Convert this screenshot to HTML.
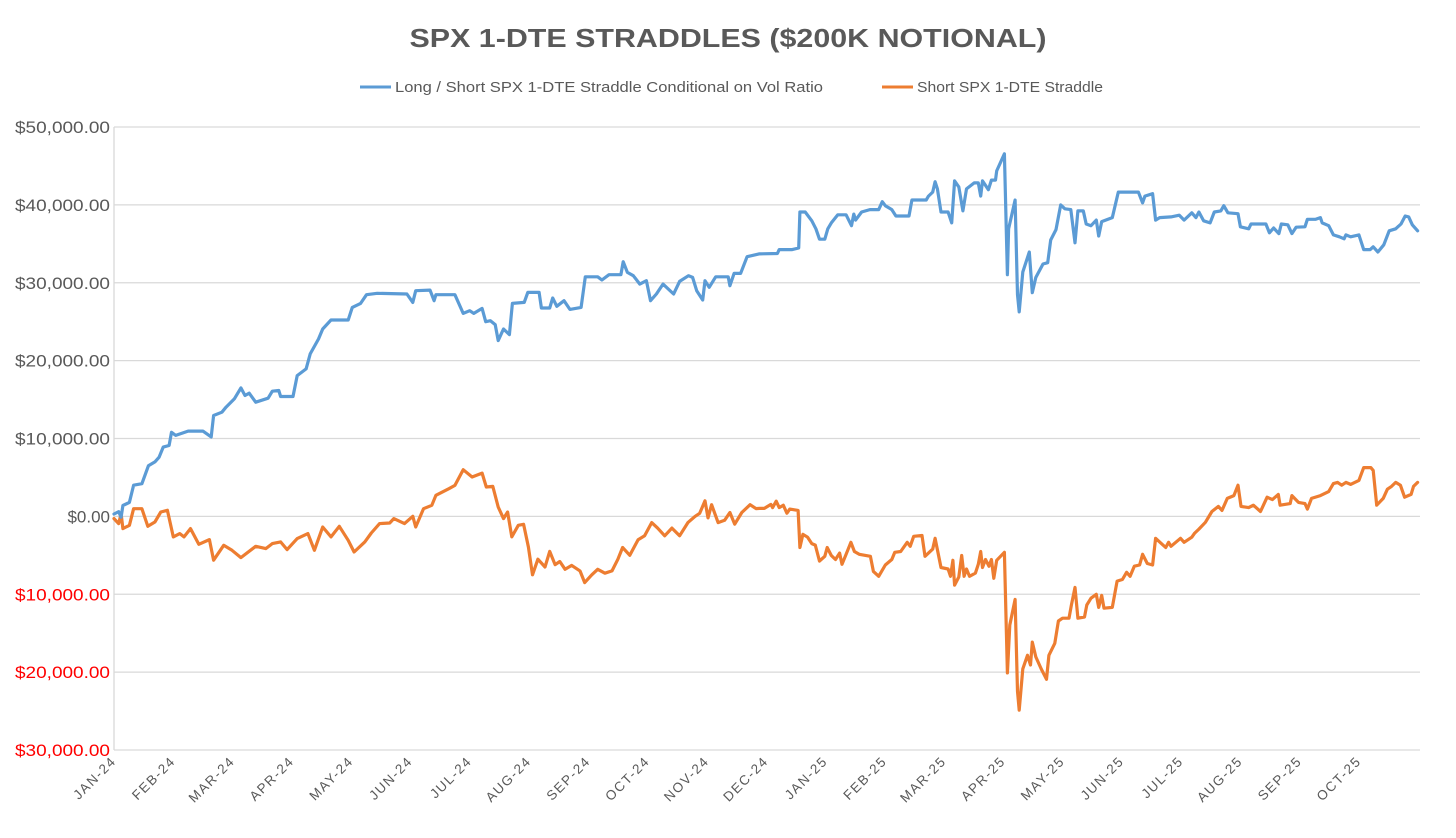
<!DOCTYPE html>
<html><head><meta charset="utf-8">
<style>
html,body{margin:0;padding:0;background:#fff;}
svg{display:block;font-family:"Liberation Sans",sans-serif;}
</style></head>
<body>
<svg id="chart" width="1456" height="838" viewBox="0 0 1456 838">
  <text x="728" y="47" text-anchor="middle" font-size="26" font-weight="bold" fill="#595959" textLength="637" lengthAdjust="spacingAndGlyphs">SPX 1-DTE STRADDLES ($200K NOTIONAL)</text>
  <g>
    <g>
      <line x1="360" y1="87" x2="391" y2="87" stroke="#5B9BD5" stroke-width="3"/>
      <text x="395" y="92" font-size="14.5" fill="#595959" textLength="428" lengthAdjust="spacingAndGlyphs">Long / Short SPX 1-DTE Straddle Conditional on Vol Ratio</text>
    </g>
    <g>
      <line x1="882" y1="87" x2="913" y2="87" stroke="#ED7D31" stroke-width="3"/>
      <text x="917" y="92" font-size="14.5" fill="#595959" textLength="186" lengthAdjust="spacingAndGlyphs">Short SPX 1-DTE Straddle</text>
    </g>
  </g>
  <g id="grid"></g>
  <g id="yaxis"></g>
  <g id="xaxis"></g>
  <g id="series"></g>
</svg>
<script>
const monthLabels = ["JAN-24","FEB-24","MAR-24","APR-24","MAY-24","JUN-24","JUL-24","AUG-24","SEP-24","OCT-24","NOV-24","DEC-24","JAN-25","FEB-25","MAR-25","APR-25","MAY-25","JUN-25","JUL-25","AUG-25","SEP-25","OCT-25"];
const yTicks = [50000,40000,30000,20000,10000,0,-10000,-20000,-30000];
const yTickLabels = ["$50,000.00","$40,000.00","$30,000.00","$20,000.00","$10,000.00","$0.00","$10,000.00","$20,000.00","$30,000.00"];

const blueMonths = [0,0.08,0.12,0.15,0.26,0.33,0.47,0.58,0.69,0.76,0.83,0.93,0.97,1.04,1.25,1.50,1.64,1.68,1.82,1.89,2.03,2.14,2.21,2.28,2.39,2.60,2.67,2.78,2.81,3.02,3.09,3.24,3.31,3.45,3.52,3.66,3.95,4.02,4.16,4.26,4.44,4.94,5.04,5.09,5.33,5.40,5.43,5.75,5.89,6.00,6.07,6.21,6.27,6.35,6.43,6.48,6.57,6.67,6.72,6.92,6.98,7.17,7.21,7.35,7.40,7.47,7.59,7.69,7.88,7.95,8.16,8.23,8.35,8.55,8.59,8.66,8.76,8.87,8.98,9.05,9.15,9.26,9.44,9.54,9.69,9.76,9.83,9.93,9.97,10.04,10.15,10.36,10.39,10.46,10.57,10.68,10.88,11.19,11.22,11.44,11.55,11.57,11.66,11.77,11.84,11.90,11.99,12.04,12.10,12.21,12.35,12.44,12.48,12.51,12.61,12.75,12.90,12.96,13.01,13.12,13.19,13.41,13.46,13.70,13.74,13.81,13.85,13.89,13.95,14.07,14.13,14.18,14.25,14.32,14.38,14.51,14.58,14.62,14.65,14.75,14.80,14.87,14.89,15.02,15.07,15.09,15.20,15.24,15.27,15.33,15.44,15.49,15.55,15.67,15.75,15.80,15.89,15.97,16.04,16.14,16.21,16.26,16.35,16.40,16.48,16.57,16.61,16.66,16.84,16.94,17.28,17.35,17.39,17.52,17.57,17.64,17.83,17.97,18.05,18.18,18.25,18.30,18.38,18.49,18.56,18.67,18.72,18.79,18.96,19.00,19.14,19.18,19.43,19.49,19.56,19.65,19.69,19.80,19.87,19.94,20.09,20.13,20.27,20.35,20.38,20.49,20.57,20.67,20.75,20.78,20.86,21.00,21.08,21.19,21.24,21.32,21.42,21.51,21.62,21.71,21.78,21.84,21.90,21.99];
const blueValues = [300,600,-100,1400,1800,4000,4200,6500,7000,7600,8900,9100,10800,10400,10950,10950,10200,12950,13380,14020,15090,16500,15520,15820,14660,15170,16070,16160,15390,15390,18080,18940,20860,22780,24060,25220,25220,26840,27350,28470,28640,28550,27480,28980,29060,27700,28470,28470,26070,26410,26070,26710,25000,25130,24620,22570,24060,23340,27350,27480,28760,28760,26760,26760,28040,26970,27700,26580,26840,30770,30770,30350,31030,31030,32700,31330,30900,29830,30260,27700,28550,29830,28550,30170,30900,30690,28980,27780,30260,29410,30770,30770,29620,31200,31200,33340,33700,33750,34260,34260,34460,39080,39080,37950,36930,35590,35590,36930,37690,38720,38720,37330,38820,38050,39080,39390,39390,40410,39900,39390,38570,38570,40620,40620,41130,41640,42980,42050,39080,39080,37690,43080,42310,39230,42050,42820,42820,41130,43080,41950,43180,43180,44360,46560,31030,36930,40620,28460,26260,31380,33950,28720,30670,32410,32570,35490,36820,40000,39490,39390,35130,39230,39230,37540,37330,38050,36000,37850,38360,41640,41640,40260,41130,41440,38050,38360,38460,38670,38050,38980,38360,39080,37950,37690,39080,39230,39900,38980,38870,37180,36930,37540,37540,36410,37030,36310,37540,37440,36310,37130,37180,38150,38150,38360,37690,37330,36150,35900,35640,36150,35900,36150,34260,34260,34620,33950,34870,36670,36930,37540,38570,38460,37440,36670];

const orangeMonths = [0,0.08,0.12,0.15,0.26,0.33,0.47,0.57,0.69,0.79,0.90,1.00,1.11,1.18,1.29,1.43,1.61,1.68,1.85,1.99,2.14,2.39,2.56,2.67,2.81,2.92,3.09,3.27,3.38,3.52,3.66,3.80,3.95,4.05,4.23,4.34,4.48,4.65,4.72,4.90,5.04,5.09,5.22,5.36,5.43,5.65,5.75,5.89,6.04,6.21,6.28,6.39,6.48,6.57,6.64,6.71,6.82,6.91,6.99,7.06,7.15,7.27,7.35,7.44,7.52,7.61,7.72,7.86,7.94,8.06,8.16,8.28,8.40,8.50,8.58,8.70,8.84,8.95,9.07,9.17,9.29,9.41,9.54,9.68,9.80,9.88,9.97,10.02,10.08,10.19,10.30,10.39,10.47,10.59,10.73,10.83,10.89,10.97,11.08,11.11,11.17,11.22,11.29,11.35,11.40,11.54,11.57,11.62,11.70,11.77,11.83,11.90,11.99,12.03,12.10,12.17,12.24,12.28,12.35,12.43,12.49,12.57,12.76,12.81,12.90,13.01,13.12,13.17,13.27,13.38,13.43,13.49,13.63,13.68,13.81,13.85,13.95,14.07,14.11,14.15,14.18,14.25,14.30,14.34,14.38,14.43,14.53,14.58,14.62,14.65,14.70,14.76,14.80,14.84,14.89,15.02,15.07,15.11,15.20,15.24,15.27,15.33,15.41,15.46,15.49,15.55,15.64,15.73,15.77,15.87,15.93,16.00,16.11,16.15,16.21,16.26,16.37,16.41,16.48,16.57,16.61,16.66,16.70,16.84,16.92,17.01,17.08,17.14,17.21,17.30,17.35,17.43,17.52,17.57,17.74,17.79,17.83,17.99,18.05,18.18,18.23,18.30,18.41,18.52,18.63,18.69,18.78,18.89,18.96,19.01,19.14,19.22,19.34,19.45,19.54,19.64,19.67,19.84,19.87,19.98,20.09,20.13,20.20,20.35,20.49,20.57,20.64,20.71,20.78,20.86,21.00,21.08,21.20,21.24,21.30,21.41,21.48,21.55,21.62,21.70,21.77,21.88,21.92,21.99];
const orangeValues = [-290,-930,350,-1570,-1150,990,990,-1280,-720,560,780,-2640,-2210,-2640,-1570,-3580,-2980,-5630,-3710,-4350,-5290,-3840,-4140,-3490,-3280,-4270,-2850,-2210,-4350,-1360,-2640,-1280,-3070,-4570,-3280,-2130,-930,-850,-290,-930,10,-1360,990,1420,2700,3560,3980,5990,5050,5560,3770,3850,1200,-290,560,-2640,-1150,-1020,-3930,-7500,-5500,-6500,-4500,-6200,-5800,-6800,-6300,-7000,-8500,-7500,-6800,-7300,-7000,-5500,-4000,-5000,-3000,-2500,-800,-1500,-2500,-1500,-2500,-800,0,400,2000,-200,1500,-800,-500,500,-1000,500,1500,1000,1030,1030,1540,1130,1950,1130,1440,410,930,770,-4000,-2300,-2670,-3490,-3690,-5740,-5130,-4000,-5020,-5540,-4720,-6150,-4870,-3330,-4510,-4870,-5130,-7070,-7690,-6250,-5540,-4610,-4510,-3330,-3840,-2560,-2460,-5130,-4200,-2820,-6560,-6760,-7690,-5640,-8820,-7790,-5020,-7690,-6760,-7690,-7280,-6150,-4510,-6560,-5540,-6400,-5540,-7950,-5640,-4610,-20100,-13950,-10660,-22460,-24870,-19590,-17840,-19080,-16150,-18050,-19590,-20920,-17840,-16300,-13430,-13070,-13070,-11380,-9120,-13070,-12920,-11380,-10510,-10000,-11690,-10150,-11790,-11690,-8310,-8100,-7180,-7690,-6400,-6250,-4870,-6050,-6250,-2820,-4000,-3330,-3840,-2820,-3330,-2670,-2150,-1640,-760,620,1280,770,2310,2670,4000,1280,1130,1440,620,2460,2160,2820,1440,1640,2670,1800,1640,930,2310,2670,3180,4210,4360,4000,4360,4100,4620,6260,6260,5900,1440,2310,3490,3850,4360,4000,2460,2820,3850,4360];

const NS = "http://www.w3.org/2000/svg";
const X0 = 114, X1 = 1420, XMAX = 22.03;
const Y0 = 750, Y1 = 127, VMIN = -30000, VMAX = 50000;
function xScale(m){ return X0 + (m / XMAX) * (X1 - X0); }
function yScale(v){ return Y0 - (v - VMIN) / (VMAX - VMIN) * (Y0 - Y1); }
function mk(tag, attrs, parent){
  const el = document.createElementNS(NS, tag);
  for (const k in attrs) el.setAttribute(k, attrs[k]);
  parent.appendChild(el);
  return el;
}

const grid = document.getElementById('grid');
const yaxis = document.getElementById('yaxis');
yTicks.forEach((v, i) => {
  const y = yScale(v);
  const gl = mk('line', {x1: X0, x2: X1, y1: y, y2: y, stroke: '#d9d9d9', 'stroke-width': 1.3}, grid);
  
  
  const label = yTickLabels[i];
  const attrs = {x: 110, y: y + 6, 'text-anchor': 'end', 'font-size': 17, fill: v < 0 ? '#ff0000' : '#595959'};
  if (label.length > 6) { attrs.textLength = 95; attrs.lengthAdjust = 'spacingAndGlyphs'; }
  const t = mk('text', attrs, yaxis);
  t.textContent = label;
  
  
});
const axl = mk('line', {x1: X0, x2: X0, y1: Y1, y2: Y0, stroke: '#d9d9d9', 'stroke-width': 1.3}, grid);



const xaxis = document.getElementById('xaxis');
monthLabels.forEach((lab, i) => {
  const x = xScale(i) + 3;
  const t = mk('text', {x: x, y: 762, 'text-anchor': 'end', 'font-size': 13.5, fill: '#595959', 'letter-spacing': '1.5', transform: 'rotate(-45 ' + x + ' 762)'}, xaxis);
  t.textContent = lab;
  
  
});

const series = document.getElementById('series');
function drawLine(months, values, color, name){
  const d = months.map((m, i) => (i ? 'L' : 'M') + xScale(m).toFixed(1) + ' ' + yScale(values[i]).toFixed(1)).join(' ');
  const p = mk('path', {d: d, fill: 'none', stroke: color, 'stroke-width': 3.2, 'stroke-linejoin': 'round', 'stroke-linecap': 'round'}, series);
  
  
}
drawLine(orangeMonths, orangeValues, '#ED7D31', 'short-straddle-line');
drawLine(blueMonths, blueValues, '#5B9BD5', 'long-short-straddle-line');
</script>
</body></html>
